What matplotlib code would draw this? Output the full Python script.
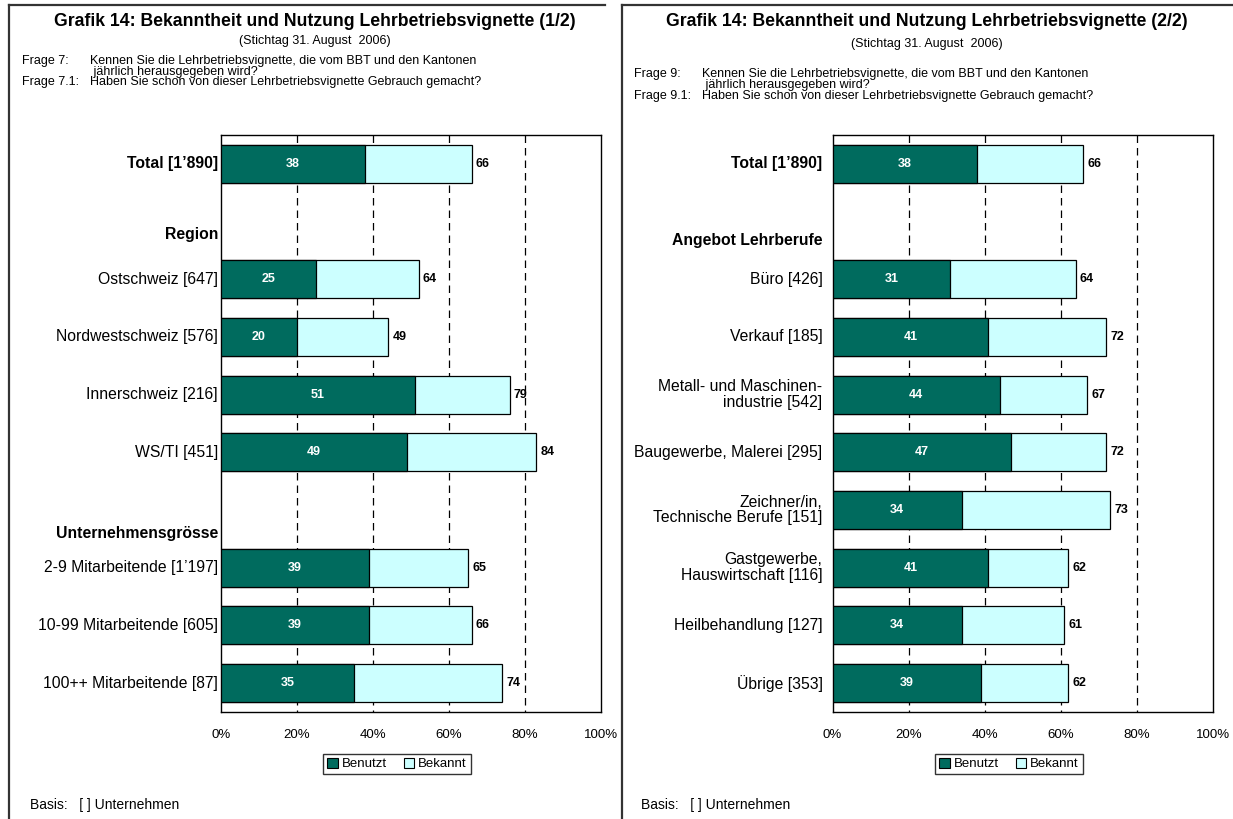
import matplotlib
matplotlib.use('Agg')
import matplotlib.pyplot as plt
from matplotlib.patches import Patch
from matplotlib.lines import Line2D

plt.rcParams['font.family'] = ['Liberation Sans', 'DejaVu Sans']

# ---------------- data ----------------
legend_labels = ['Benutzt', 'Bekannt']
x_ticks = [0, 20, 40, 60, 80, 100]
x_ticklabels = ['0%', '20%', '40%', '60%', '80%', '100%']

left_title = 'Grafik 14: Bekanntheit und Nutzung Lehrbetriebsvignette (1/2)'
right_title = 'Grafik 14: Bekanntheit und Nutzung Lehrbetriebsvignette (2/2)'
subtitle = '(Stichtag 31. August  2006)'
left_q_labels = ['Frage 7:', '', 'Frage 7.1:']
right_q_labels = ['Frage 9:', '', 'Frage 9.1:']
q_texts = ['Kennen Sie die Lehrbetriebsvignette, die vom BBT und den Kantonen',
           ' jährlich herausgegeben wird?',
           'Haben Sie schon von dieser Lehrbetriebsvignette Gebrauch gemacht?']
basis_text = 'Basis:   [ ] Unternehmen'

# rows (None values = group header)
left_rows = ['Total [1’890]', 'Region', 'Ostschweiz [647]', 'Nordwestschweiz [576]',
             'Innerschweiz [216]', 'WS/TI [451]', 'Unternehmensgrösse',
             '2-9 Mitarbeitende [1’197]', '10-99 Mitarbeitende [605]', '100++ Mitarbeitende [87]']
left_benutzt = [38, None, 25, 20, 51, 49, None, 39, 39, 35]
left_bekannt_bar = [66, None, 52, 44, 76, 83, None, 65, 66, 74]     # bar lengths as drawn
left_bekannt_label = [66, None, 64, 49, 79, 84, None, 65, 66, 74]   # numbers printed

right_rows = ['Total [1’890]', 'Angebot Lehrberufe', 'Büro [426]', 'Verkauf [185]',
              'Metall- und Maschinen-\nindustrie [542]', 'Baugewerbe, Malerei [295]',
              'Zeichner/in,\nTechnische Berufe [151]', 'Gastgewerbe,\nHauswirtschaft [116]',
              'Heilbehandlung [127]', 'Übrige [353]']
right_benutzt = [38, None, 31, 41, 44, 47, 34, 41, 34, 39]
right_bekannt_bar = [66, None, 64, 72, 67, 72, 73, 62, 61, 62]
right_bekannt_label = [66, None, 64, 72, 67, 72, 73, 62, 61, 62]

# ---------------- style ----------------
DARK = '#006B5E'
LIGHT = '#CCFFFF'
W, H = 1233, 819

fig = plt.figure(figsize=(W / 100, H / 100), dpi=100)


def fx(x):
    return x / W


def fy(y):
    return 1 - y / H


def panel(ax_left_px, rows, benutzt, bek_bar, bek_lab, header_offsets, label_pad_px,
          box_center, title, q_labels, q_x, qtext_x, q_y, sub_y, basis_x, legend_x):
    ax_top, ax_bot, ax_w = 135, 712, 380
    ax = fig.add_axes([fx(ax_left_px), fy(ax_bot), ax_w / W, (ax_bot - ax_top) / H])
    n = len(rows)
    ax.set_xlim(0, 100)
    ax.set_ylim(n, 0)
    for g in x_ticks[1:-1]:
        ax.plot([g, g], [0, n], color='black', lw=0.9, ls=(0, (6, 4)), zorder=1)
    hi = 0
    for i, lab in enumerate(rows):
        yc = i + 0.5
        if benutzt[i] is None:
            ax.text(-label_pad_px / ax_w * 100, yc + header_offsets[hi], lab, ha='right', va='center',
                    fontsize=11.3, fontweight='bold')
            hi += 1
            continue
        ax.barh(yc, bek_bar[i], height=0.66, color=LIGHT, edgecolor='black', lw=0.9, zorder=2)
        ax.barh(yc, benutzt[i], height=0.66, color=DARK, edgecolor='black', lw=0.9, zorder=3)
        ax.text(benutzt[i] / 2, yc, str(benutzt[i]), ha='center', va='center', color='white',
                fontsize=9, fontweight='bold', zorder=4)
        ax.annotate(str(bek_lab[i]), (bek_bar[i], yc), xytext=(3, 0), textcoords='offset points',
                    ha='left', va='center', fontsize=9, fontweight='bold', zorder=4)
        ax.text(-label_pad_px / ax_w * 100, yc, lab, ha='right', va='center', fontsize=11.3,
                fontweight='bold' if i == 0 else 'normal', linespacing=1.05)
    ax.set_yticks([])
    ax.set_xticks(x_ticks)
    ax.set_xticklabels(x_ticklabels, fontsize=9.5)
    ax.tick_params(axis='x', length=0, pad=12)
    for s in ax.spines.values():
        s.set_color('black')
        s.set_linewidth(1.0)

    fig.text(fx(box_center), fy(21), title, ha='center', va='center', fontsize=12.7, fontweight='bold')
    fig.text(fx(box_center), fy(sub_y), subtitle, ha='center', va='center', fontsize=9)
    for ql, qt, yy in zip(q_labels, q_texts, q_y):
        if ql:
            fig.text(fx(q_x), fy(yy), ql, ha='left', va='center', fontsize=9)
        fig.text(fx(qtext_x), fy(yy), qt, ha='left', va='center', fontsize=9)
    fig.text(fx(basis_x), fy(805), basis_text, ha='left', va='center', fontsize=10)

    handles = [Patch(facecolor=DARK, edgecolor='black', lw=0.8),
               Patch(facecolor=LIGHT, edgecolor='black', lw=0.8)]
    leg = fig.legend(handles, legend_labels, loc='center', bbox_to_anchor=(fx(legend_x), fy(764)),
                     ncol=2, fontsize=9.5, frameon=True, fancybox=False, edgecolor='black',
                     handlelength=0.8, handleheight=0.8, handletextpad=0.3, columnspacing=1.3,
                     borderpad=0.3, borderaxespad=0)
    leg.get_frame().set_linewidth(1.0)
    return ax


panel(221, left_rows, left_benutzt, left_bekannt_bar, left_bekannt_label, [0.22, 0.4], 3,
      315, left_title, left_q_labels, 22, 90, [61, 71.5, 82], 41, 30, 397)
panel(832.6, right_rows, right_benutzt, right_bekannt_bar, right_bekannt_label, [0.33], 10,
      927, right_title, right_q_labels, 634, 702, [74, 85, 96], 44, 641, 1009)

# panel frames
frame_kw = dict(transform=fig.transFigure, color='#333333', lw=1.6)
fig.add_artist(Line2D([fx(9), fx(9)], [fy(4.5), fy(819)], **frame_kw))
fig.add_artist(Line2D([fx(9), fx(605)], [fy(4.5), fy(4.5)], **frame_kw))
fig.add_artist(Line2D([fx(622), fx(622)], [fy(4.5), fy(819)], **frame_kw))
fig.add_artist(Line2D([fx(622), fx(1233)], [fy(4.5), fy(4.5)], **frame_kw))

fig.savefig('out.png', dpi=100)
